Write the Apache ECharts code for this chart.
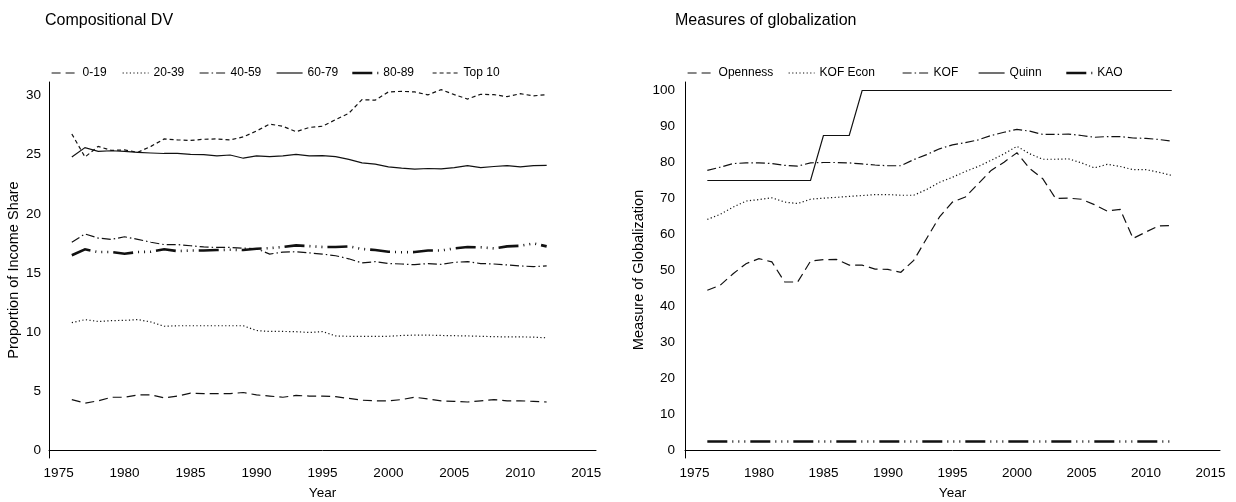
<!DOCTYPE html>
<html>
<head>
<meta charset="utf-8">
<script src="https://cdn.jsdelivr.net/npm/echarts@6/dist/echarts.min.js"></script>
<style>
  html, body { margin: 0; padding: 0; background: #ffffff; }
  #chart { width: 1236px; height: 502px; }
</style>
</head>
<body>
<div id="chart"></div>
<script>
// ---- data ----
const years = [1976, 1977, 1978, 1979, 1980, 1981, 1982, 1983, 1984, 1985, 1986, 1987, 1988,
  1989, 1990, 1991, 1992, 1993, 1994, 1995, 1996, 1997, 1998, 1999, 2000, 2001, 2002, 2003,
  2004, 2005, 2006, 2007, 2008, 2009, 2010, 2011, 2012];

// Income shares by percentile group (left panel)
const share0to19 = [4.3, 4.0, 4.2, 4.5, 4.5, 4.7, 4.7, 4.45, 4.6, 4.85, 4.8, 4.8, 4.8, 4.9, 4.7,
  4.6, 4.5, 4.65, 4.6, 4.6, 4.55, 4.4, 4.25, 4.2, 4.2, 4.3, 4.5, 4.35, 4.2, 4.15, 4.1, 4.2, 4.3,
  4.2, 4.2, 4.15, 4.1];
const share20to39 = [10.8, 11.06, 10.9, 10.97, 11.0, 11.06, 10.86, 10.5, 10.54, 10.54, 10.54,
  10.54, 10.54, 10.54, 10.14, 10.06, 10.06, 10.04, 9.97, 10.05, 9.68, 9.65, 9.65, 9.65, 9.65,
  9.72, 9.75, 9.75, 9.72, 9.7, 9.68, 9.65, 9.62, 9.6, 9.6, 9.58, 9.52];
const share40to59 = [17.6, 18.3, 17.95, 17.84, 18.06, 17.84, 17.6, 17.4, 17.4, 17.3, 17.2,
  17.16, 17.16, 17.1, 17.05, 16.6, 16.77, 16.8, 16.7, 16.6, 16.46, 16.2, 15.85, 15.96, 15.8,
  15.76, 15.7, 15.8, 15.73, 15.9, 15.96, 15.8, 15.76, 15.68, 15.6, 15.54, 15.6];
const share60to79 = [24.8, 25.6, 25.28, 25.33, 25.28, 25.2, 25.14, 25.1, 25.1, 25.03, 25.0,
  24.9, 24.97, 24.7, 24.9, 24.83, 24.9, 25.03, 24.9, 24.92, 24.83, 24.6, 24.3, 24.2, 23.97,
  23.86, 23.78, 23.83, 23.8, 23.9, 24.08, 23.9, 24.0, 24.08, 23.97, 24.08, 24.1];
const share80to89 = [16.5, 17.0, 16.77, 16.77, 16.63, 16.77, 16.8, 17.0, 16.85, 16.9, 16.9,
  16.94, 16.97, 16.94, 17.05, 17.1, 17.2, 17.33, 17.27, 17.2, 17.2, 17.25, 17.03, 16.94, 16.8,
  16.75, 16.77, 16.9, 16.9, 17.08, 17.2, 17.17, 17.08, 17.25, 17.3, 17.5, 17.25];
const shareTop10 = [26.75, 24.8, 25.7, 25.36, 25.4, 25.2, 25.7, 26.33, 26.25, 26.2, 26.3, 26.33,
  26.25, 26.5, 27.0, 27.58, 27.4, 26.94, 27.3, 27.4, 27.96, 28.5, 29.65, 29.6, 30.3, 30.35,
  30.3, 30.05, 30.5, 30.07, 29.7, 30.1, 30.07, 29.9, 30.15, 29.97, 30.07];

// Globalization indices (right panel)
const openness = [44.5, 45.9, 49.1, 51.9, 53.3, 52.4, 46.8, 46.8, 52.6, 53.0, 53.1, 51.5, 51.5,
  50.4, 50.3, 49.5, 52.8, 58.9, 64.9, 69.0, 70.4, 74.1, 77.8, 80.1, 82.7, 78.3, 75.5, 70.0,
  70.1, 69.8, 68.3, 66.5, 67.0, 58.9, 60.7, 62.4, 62.5];
const kofEcon = [64.2, 65.6, 67.6, 69.3, 69.7, 70.2, 69.0, 68.6, 69.8, 70.1, 70.3, 70.6, 70.8,
  71.1, 71.1, 70.9, 70.9, 72.5, 74.5, 75.9, 77.5, 78.9, 80.6, 82.4, 84.5, 82.4, 80.9, 80.9,
  81.0, 79.9, 78.5, 79.5, 78.9, 78.0, 78.0, 77.3, 76.4];
const kof = [77.8, 78.7, 79.7, 79.9, 79.9, 79.7, 79.2, 79.0, 79.9, 80.0, 80.0, 79.9, 79.6, 79.3,
  79.1, 79.1, 80.8, 82.2, 83.8, 84.9, 85.5, 86.3, 87.5, 88.4, 89.2, 88.7, 87.8, 87.8, 87.9,
  87.5, 87.0, 87.2, 87.2, 86.8, 86.7, 86.4, 85.9];
const quinn = [75, 75, 75, 75, 75, 75, 75, 75, 75, 87.5, 87.5, 87.5, 100, 100, 100, 100, 100,
  100, 100, 100, 100, 100, 100, 100, 100, 100, 100, 100, 100, 100, 100, 100, 100, 100, 100,
  100, 100];
const kao = [2.5, 2.5, 2.5, 2.5, 2.5, 2.5, 2.5, 2.5, 2.5, 2.5, 2.5, 2.5, 2.5, 2.5, 2.5, 2.5, 2.5,
  2.5, 2.5, 2.5, 2.5, 2.5, 2.5, 2.5, 2.5, 2.5, 2.5, 2.5, 2.5, 2.5, 2.5, 2.5, 2.5, 2.5, 2.5,
  2.5, 2.5];

const incomeNames = ['0-19', '20-39', '40-59', '60-79', '80-89', 'Top 10'];
const globNames = ['Openness', 'KOF Econ', 'KOF', 'Quinn', 'KAO'];
const yearTicks = [1975, 1980, 1985, 1990, 1995, 2000, 2005, 2010, 2015];
const incomeTicks = [0, 5, 10, 15, 20, 25, 30];
const globTicks = [0, 10, 20, 30, 40, 50, 60, 70, 80, 90, 100];

// ---- styles ----
const FONT = 'Liberation Sans, Arial, Helvetica, sans-serif';
const INK = '#111111';
const dashLong = [9, 5];
const dotted = [1.2, 2.4];
const dashDot = [9, 3, 1.5, 3];
const dashThreeDots = [20, 5, 1, 5, 1, 5, 1, 5];
const dashShort = [4, 3];

const incomeStyles = [
  { type: dashLong, width: 1.2 },
  { type: dotted, width: 1.2 },
  { type: dashDot, width: 1.2 },
  { type: 'solid', width: 1.2 },
  { type: dashThreeDots, width: 2.6 },
  { type: dashShort, width: 1.2 }
];
const globStyles = [
  { type: dashLong, width: 1.2 },
  { type: dotted, width: 1.2 },
  { type: dashDot, width: 1.2 },
  { type: 'solid', width: 1.2 },
  { type: dashThreeDots, width: 2.6 }
];
const incomeSeries = [share0to19, share20to39, share40to59, share60to79, share80to89, shareTop10];
const globSeries = [openness, kofEcon, kof, quinn, kao];

// legend key x positions
const incomeLegendX = [51, 122, 199, 276, 351, 432];
const globLegendX = [687, 788, 902, 978, 1065];

function pairs(values) {
  return years.map((y, i) => [y, values[i]]);
}

function makeLine(name, values, style, axisIndex) {
  return {
    name: name,
    type: 'line',
    xAxisIndex: axisIndex,
    yAxisIndex: axisIndex,
    data: pairs(values),
    symbol: 'none',
    showSymbol: false,
    silent: true,
    lineStyle: { color: INK, width: style.width, type: style.type, cap: 'butt', join: 'miter' },
    itemStyle: { color: INK }
  };
}

function makeLegend(name, x, style) {
  return {
    data: [name],
    left: x,
    top: 67,
    padding: 0,
    orient: 'horizontal',
    itemWidth: 26,
    itemHeight: 10,
    selectedMode: false,
    itemStyle: { opacity: 0 },
    lineStyle: { width: style.width, type: style.type, color: INK, cap: 'butt' },
    textStyle: { fontFamily: FONT, fontSize: 12, color: '#000' }
  };
}

function xAxisDef(gridIndex) {
  return {
    gridIndex: gridIndex,
    type: 'value',
    min: 1974.27,
    max: 2015.74,
    name: 'Year',
    nameLocation: 'middle',
    nameGap: 28,
    nameTextStyle: { fontFamily: FONT, fontSize: 13.5, color: '#000' },
    axisLine: { show: true, lineStyle: { color: '#000', width: 1 } },
    axisTick: { show: false },
    splitLine: { show: false },
    axisLabel: {
      customValues: yearTicks,
      margin: 8,
      fontFamily: FONT, fontSize: 13.5, color: '#000',
      formatter: v => String(v)
    }
  };
}

function yAxisDef(gridIndex, min, max, ticks, name, nameGap, margin) {
  return {
    gridIndex: gridIndex,
    type: 'value',
    min: min,
    max: max,
    name: name,
    nameLocation: 'middle',
    nameGap: nameGap,
    nameRotate: 90,
    nameTextStyle: { fontFamily: FONT, fontSize: 14.5, color: '#000' },
    axisLine: { show: true, lineStyle: { color: '#000', width: 1 } },
    axisTick: { show: false },
    splitLine: { show: false },
    axisLabel: {
      customValues: ticks,
      margin: margin,
      fontFamily: FONT, fontSize: 13.5, color: '#000',
      formatter: v => String(v)
    }
  };
}

const series = [];
incomeNames.forEach((n, i) => series.push(makeLine(n, incomeSeries[i], incomeStyles[i], 0)));
globNames.forEach((n, i) => series.push(makeLine(n, globSeries[i], globStyles[i], 1)));

const legends = [];
incomeNames.forEach((n, i) => legends.push(makeLegend(n, incomeLegendX[i], incomeStyles[i])));
globNames.forEach((n, i) => legends.push(makeLegend(n, globLegendX[i], globStyles[i])));

const chart = echarts.init(document.getElementById('chart'), null, { renderer: 'canvas' });
chart.setOption({
  animation: false,
  backgroundColor: '#ffffff',
  title: [
    { text: 'Compositional DV', left: 45, top: 13, padding: 0,
      textStyle: { fontFamily: FONT, fontSize: 16, fontWeight: 'normal', color: '#000' } },
    { text: 'Measures of globalization', left: 675, top: 13, padding: 0,
      textStyle: { fontFamily: FONT, fontSize: 16, fontWeight: 'normal', color: '#000' } }
  ],
  legend: legends,
  grid: [
    { left: 49, width: 547, top: 82, height: 376, containLabel: false, outerBoundsMode: 'none' },
    { left: 685, width: 535, top: 82, height: 376, containLabel: false, outerBoundsMode: 'none' }
  ],
  xAxis: [xAxisDef(0), xAxisDef(1)],
  yAxis: [
    yAxisDef(0, -0.634, 31.14, incomeTicks, 'Proportion of Income Share', 28, 8),
    yAxisDef(1, -2.08, 102.36, globTicks, 'Measure of Globalization', 39, 10)
  ],
  series: series
});
</script>
</body>
</html>
